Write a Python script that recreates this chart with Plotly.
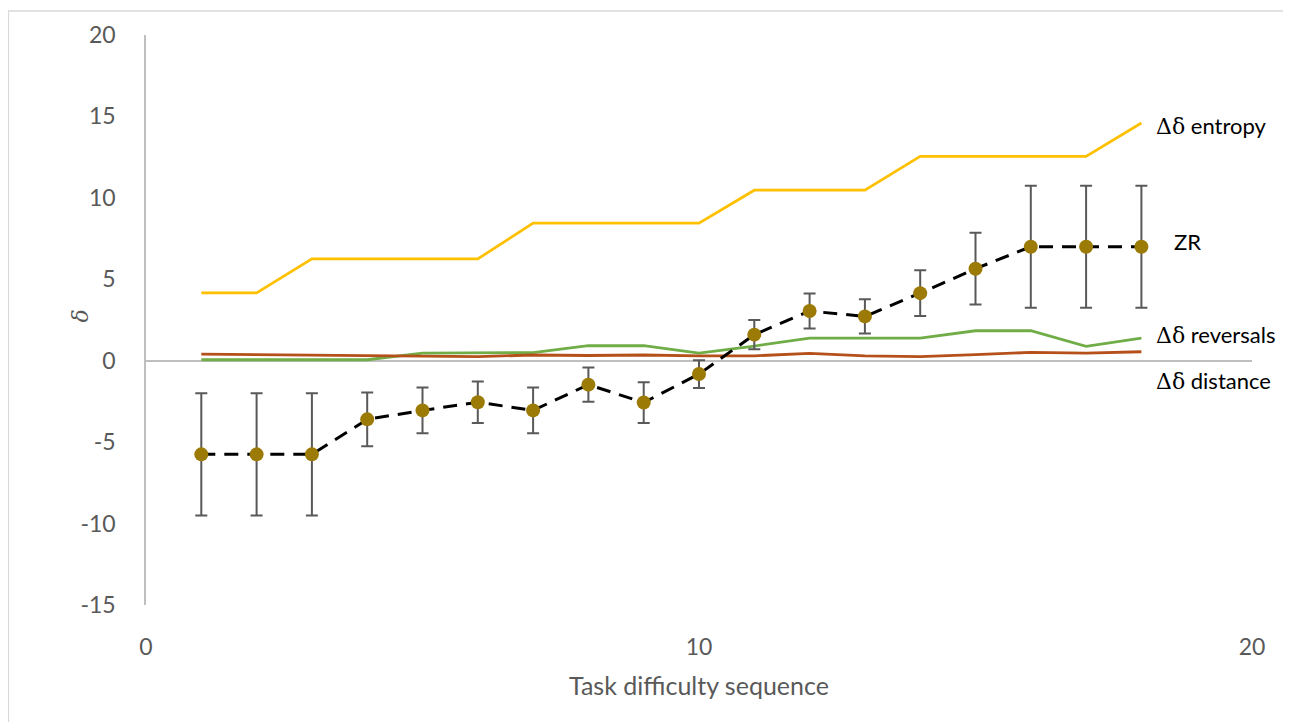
import plotly.graph_objects as go

x_seq = list(range(1, 19))
zr = [-5.75, -5.75, -5.75, -3.6, -3.05, -2.55, -3.05, -1.47, -2.57, -0.82,
      1.6, 3.05, 2.72, 4.15, 5.65, 7.0, 7.0, 7.0]
zr_err = [3.75, 3.75, 3.75, 1.65, 1.4, 1.27, 1.4, 1.05, 1.25, 0.85,
          0.9, 1.07, 1.05, 1.4, 2.2, 3.75, 3.75, 3.75]
entropy = [4.16, 4.16, 6.25, 6.25, 6.25, 6.25, 8.45, 8.45, 8.45, 8.45,
           10.47, 10.47, 10.47, 12.55, 12.55, 12.55, 12.55, 14.6]
reversals = [0.06, 0.06, 0.06, 0.06, 0.47, 0.47, 0.5, 0.92, 0.92, 0.47,
             0.9, 1.39, 1.39, 1.39, 1.84, 1.84, 0.88, 1.39]
distance = [0.41, 0.38, 0.35, 0.3, 0.25, 0.25, 0.35, 0.32, 0.35, 0.3,
            0.3, 0.45, 0.3, 0.25, 0.37, 0.51, 0.47, 0.55]

x_ticks = [0, 10, 20]
y_ticks = [-15, -10, -5, 0, 5, 10, 15, 20]
y_ticktext = ["-15", "-10", "-5", "0", "5", "10", "15", "20"]

labels = ["Δδ entropy", "ZR", "Δδ reversals", "Δδ distance"]
label_pos = [(18.22, 14.45), (18.55, 7.3), (18.22, 1.6), (18.22, -1.2)]

TXT = "#595959"
FONT = "Lato, 'Open Sans', sans-serif"

fig = go.Figure()
fig.add_trace(go.Scatter(x=x_seq, y=entropy, mode="lines",
                         line=dict(color="#FFC000", width=2.8), name="entropy"))
fig.add_trace(go.Scatter(x=x_seq, y=reversals, mode="lines",
                         line=dict(color="#70AD47", width=2.8), name="reversals"))
fig.add_trace(go.Scatter(x=x_seq, y=distance, mode="lines",
                         line=dict(color="#B5501A", width=2.8), name="distance"))
fig.add_trace(go.Scatter(
    x=x_seq, y=zr, mode="lines+markers",
    line=dict(color="black", width=3, dash="14px,9px"),
    marker=dict(color="#9C7A06", size=14),
    error_y=dict(type="data", array=zr_err, visible=True,
                 color="#595959", thickness=2, width=6),
    name="ZR"))

for (lx, ly), t in zip(label_pos, labels):
    if t.startswith("Δδ"):
        txt = ("<span style=\"font-family:'DejaVu Serif','Liberation Serif',serif\">Δδ</span>"
               + t[2:])
    else:
        txt = t
    fig.add_annotation(x=lx, y=ly, xref="x", yref="y", text=txt,
                       showarrow=False, xanchor="left", yanchor="middle",
                       font=dict(family=FONT, size=22, color="black"))

fig.add_annotation(x=-0.0732, y=0.507, xref="paper", yref="paper",
                   text="<i>δ</i>", textangle=-90, showarrow=False,
                   font=dict(family="'DejaVu Serif','Liberation Serif',serif",
                             size=22, color=TXT))
fig.add_annotation(x=0.5, y=-0.14, xref="paper", yref="paper",
                   text="Task difficulty sequence", showarrow=False,
                   yanchor="middle",
                   font=dict(family=FONT, size=25, color=TXT))

# outer chart border (top, left, right)
fig.add_shape(type="path", xref="paper", yref="paper",
              path="M -0.1245 -0.21 L -0.1245 1.042 L 1.033 1.042 L 1.033 -0.21",
              line=dict(color="#d9d9d9", width=1.5))

fig.update_layout(
    width=1283, height=714,
    margin=dict(l=138, r=39, t=25, b=117),
    paper_bgcolor="white", plot_bgcolor="white",
    showlegend=False,
    font=dict(family=FONT, color=TXT),
    xaxis=dict(range=[0, 20], tickvals=x_ticks, showgrid=False,
               zeroline=False, showline=False, ticks="",
               ticklabelstandoff=26,
               tickfont=dict(size=23, color=TXT, family=FONT)),
    yaxis=dict(range=[-15, 20], tickvals=y_ticks, ticktext=y_ticktext,
               showgrid=False,
               zeroline=True, zerolinecolor="#bfbfbf", zerolinewidth=1.5,
               showline=True, linecolor="#bfbfbf", linewidth=1.5, ticks="",
               ticklabelstandoff=24,
               tickfont=dict(size=23, color=TXT, family=FONT)),
)

fig.write_html("out.html")
